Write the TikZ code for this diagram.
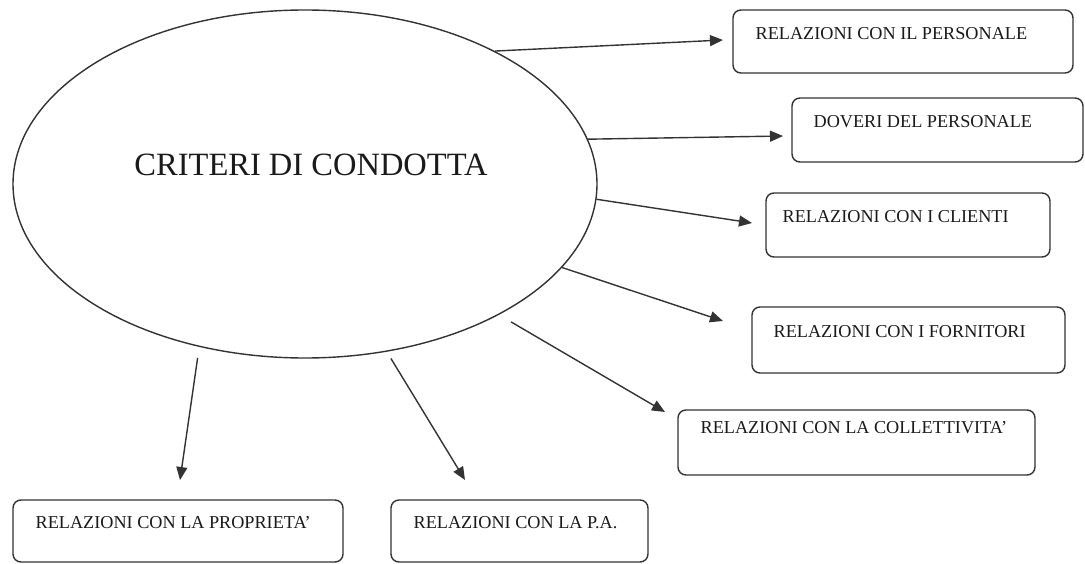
\documentclass[tikz,border=0pt]{standalone}
\usepackage{fontspec}
\setmainfont{Liberation Serif}
\usetikzlibrary{shapes.geometric,arrows.meta}
\definecolor{ink}{HTML}{333333}
\definecolor{txt}{HTML}{1A1A1A}
\begin{document}
\begin{tikzpicture}[x=1pt,y=-1pt,
  line width=1.4pt,
  boxstyle/.style={draw=ink,rounded corners=8pt,inner sep=0pt,line width=1.4pt},
  lbl/.style={anchor=west,inner sep=0pt,text=txt,font=\fontsize{18.2}{20}\selectfont},
  arr/.style={draw=ink,line width=1.4pt,-{Triangle[length=13pt,width=11pt]}}]
\useasboundingbox[fill=white] (0,0) rectangle (1085,564);
% central ellipse
\node[ellipse,draw=ink,line width=1.4pt,minimum width=584pt,minimum height=348pt,inner sep=0pt] (ell) at (305,184) {};
\node[inner sep=0pt,text=txt,font=\fontsize{32.5}{36}\selectfont] (title) at (311,165) {CRITERI DI CONDOTTA};
% boxes
\node[boxstyle,minimum width=340pt,minimum height=63pt] (b1) at (903,41.5) {};
\node[boxstyle,minimum width=291pt,minimum height=64pt] (b2) at (937.5,130) {};
\node[boxstyle,minimum width=284pt,minimum height=64pt] (b3) at (908,225) {};
\node[boxstyle,minimum width=313pt,minimum height=66pt] (b4) at (908.5,340) {};
\node[boxstyle,minimum width=357pt,minimum height=65pt] (b5) at (856.5,442.5) {};
\node[boxstyle,minimum width=330pt,minimum height=62pt] (b6) at (178,531) {};
\node[boxstyle,minimum width=257pt,minimum height=62pt] (b7) at (519.5,531) {};
% labels
\node[lbl] (t1) at (755,34) {RELAZIONI CON IL PERSONALE};
\node[lbl] (t2) at (813,122) {DOVERI DEL PERSONALE};
\node[lbl] (t3) at (782,217) {RELAZIONI CON I CLIENTI};
\node[lbl] (t4) at (773,332) {RELAZIONI CON I FORNITORI};
\node[lbl] (t5) at (700,428) {RELAZIONI CON LA COLLETTIVITA'};
\node[lbl] (t6) at (35,523) {RELAZIONI CON LA PROPRIETA'};
\node[lbl] (t7) at (413,523) {RELAZIONI CON LA P.A.};
% arrow tips
\coordinate (e1) at (723,40);
\coordinate (e2) at (783,136);
\coordinate (e3) at (752,223);
\coordinate (e4) at (723,321);
\coordinate (e5) at (665,412);
\coordinate (e6) at (180,480);
\coordinate (e7) at (465,480);
% connectors
\draw[arr] (ell.35.8) -- (e1);
\draw[arr] (ell.9.4) -- (e2);
\draw[arr] (ell.-3.6) -- (e3);
\draw[arr] (ell.-18.3) -- (e4);
\draw[arr,shorten <=14pt] (ell.-34.1) -- (e5);
\draw[arr,shorten <=11pt] (ell.-123) -- (e6);
\draw[arr,shorten <=8pt] (ell.-64.1) -- (e7);
\end{tikzpicture}
\end{document}
